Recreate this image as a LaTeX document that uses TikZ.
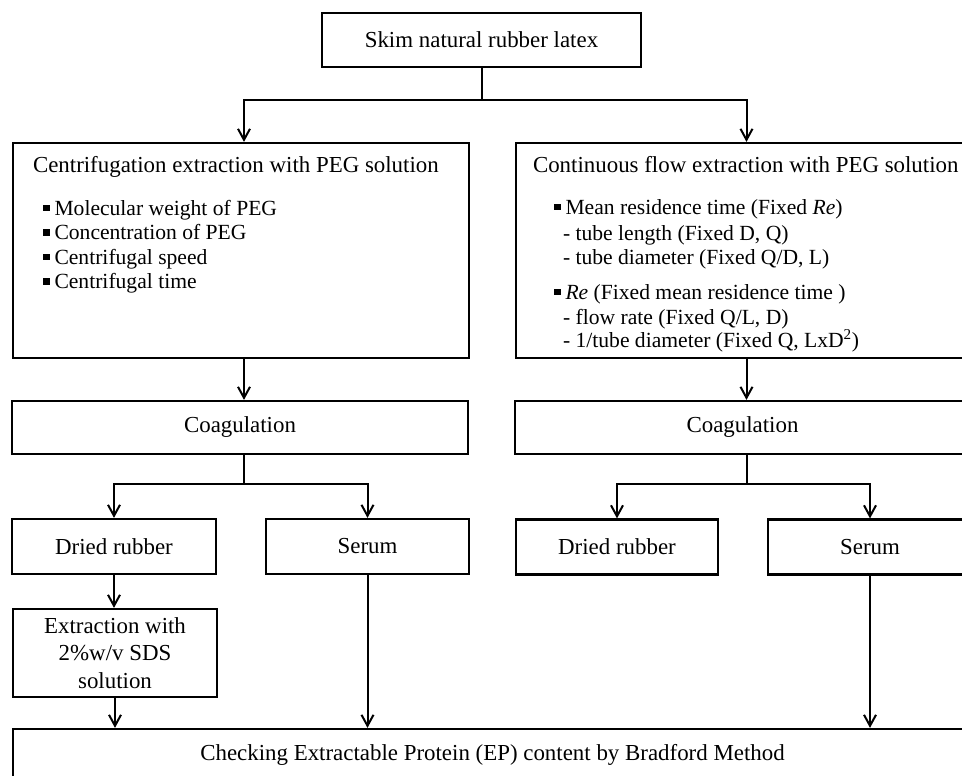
\documentclass[tikz,border=0pt]{standalone}
\usepackage{fontspec}
\setmainfont{Liberation Serif}
\usetikzlibrary{arrows.meta}
\newcommand\sqb{\raisebox{4pt}{\rule{6.5pt}{6.5pt}}\hspace{5pt}}

\begin{document}
\begin{tikzpicture}
  [x=1pt,y=-1pt,
  every node/.style={font=\fontsize{22.9}{27.5}\selectfont},
  box/.style={draw,line width=2.2pt,inner sep=0pt},
  item/.style={anchor=base west,inner sep=0pt,font=\fontsize{21.6}{26}\selectfont},
  arr/.style={-{Straight Barb[length=11pt,width=12pt]}},
  line width=2pt]
\useasboundingbox (0,0) rectangle (962,776);
\clip (0,0) rectangle (962,776);
\coordinate (lx) at (244,0);
\coordinate (rx) at (746.5,0);

\node[box,minimum width=319pt,minimum height=54pt] (top) at (481.5,40) {Skim natural rubber latex};

\node[box,minimum width=456pt,minimum height=215pt] (cent) at (241,250.5) {};
\node[box,minimum width=454pt,minimum height=215pt] (cont) at (743,250.5) {};
\node[anchor=base west,inner sep=0pt] (centT) at (32,172) {Centrifugation extraction with PEG solution};
\node[anchor=base west,inner sep=0pt] (contT) at (532,172) {Continuous flow extraction with PEG solution};
\foreach \t [count=\i] in {Molecular weight of PEG,Concentration of PEG,Centrifugal speed,Centrifugal time}
  \node[item] (pl\i) at (42,{190.5+24.5*\i}) {\sqb\t};
\foreach \t/\y/\x [count=\i] in {{\sqb Mean residence time (Fixed \textit{Re})}/214/553,
    {- tube length (Fixed D, Q)}/240/562,
    {- tube diameter (Fixed Q/D, L)}/264/562,
    {\sqb\textit{Re} (Fixed mean residence time )}/299/553,
    {- flow rate (Fixed Q/L, D)}/324/562,
    {- 1/tube diameter (Fixed Q, LxD\textsuperscript{2})}/347/562}
  \node[item] (pr\i) at (\x,\y) {\t};

\node[box,minimum width=456pt,minimum height=53pt] (coagL) at (240,427.5) {Coagulation};
\node[box,minimum width=455pt,minimum height=53pt] (coagR) at (742.5,427.5) {Coagulation};
\node[box,minimum width=204pt,minimum height=55pt] (dryL) at (114,546.5) {Dried rubber};
\node[box,minimum width=203pt,minimum height=55pt] (serL) at (367.5,546.5) {Serum};
\node[box,minimum width=202pt,minimum height=55pt] (dryR) at (617,547) {Dried rubber};
\node[box,minimum width=204pt,minimum height=55pt] (serR) at (870,547) {Serum};
\node[box,align=center,minimum width=204pt,minimum height=88pt] (sds) at (115,653) {Extraction with\\2\%w/v SDS\\solution};
\node[box,minimum width=959pt,minimum height=52pt] (chk) at (492.5,755) {Checking Extractable Protein (EP) content by Bradford Method};

\draw (top.south) -- ++(0,32) coordinate (j0);
\draw[arr] (j0) -| (cent.north -| lx);
\draw[arr] (j0) -| (cont.north -| rx);
\draw[arr] (cent.south -| lx) -- (coagL.north -| lx);
\draw[arr] (cont.south -| rx) -- (coagR.north -| rx);
\draw (coagL.south -| lx) -- ++(0,29) coordinate (j1);
\draw[arr] (j1) -| (dryL.north);
\draw[arr] (j1) -| (serL.north);
\draw (coagR.south -| rx) -- ++(0,29) coordinate (j2);
\draw[arr] (j2) -| (dryR.north);
\draw[arr] (j2) -| (serR.north);
\draw[arr] (dryL.south) -- (dryL.south |- sds.north);
\draw[arr] (sds.south) -- (sds.south |- chk.north);
\draw[arr] (serL.south) -- (serL.south |- chk.north);
\draw[arr] (serR.south) -- (serR.south |- chk.north);
\end{tikzpicture}
\end{document}
